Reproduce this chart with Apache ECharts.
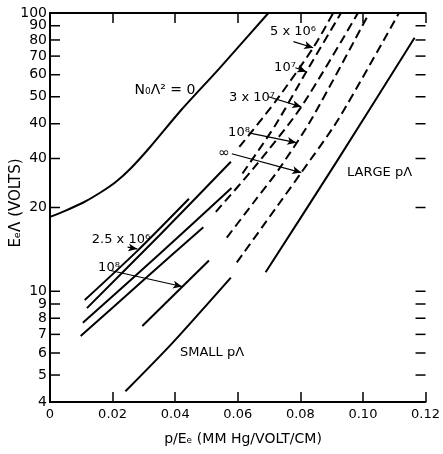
<!DOCTYPE html>
<html>
<head>
<meta charset="utf-8">
<script src="https://cdn.jsdelivr.net/npm/echarts@6/dist/echarts.min.js"></script>
<style>
  html, body { margin: 0; padding: 0; background: #fff; }
  #chart { width: 443px; height: 454px; }
</style>
</head>
<body>
<div id="chart"></div>
<script>
// axis ticks
const xTicks = [0, 0.02, 0.04, 0.06, 0.08, 0.10, 0.12];
const xTickLabels = ['0', '0.02', '0.04', '0.06', '0.08', '0.10', '0.12'];
const yTicks = [4, 5, 6, 7, 8, 9, 10, 20, 30, 40, 50, 60, 70, 80, 90, 100];
const yTickLabels = ['4', '5', '6', '7', '8', '9', '10', '20', '40', '40', '50', '60', '70', '80', '90', '100'];

// solid curves  [p/Ee, EeΛ]
const zeroCurve = [[0, 18.5], [0.005, 19.5], [0.0105, 20.8], [0.016, 22.6], [0.021, 24.7], [0.026, 27.8],
  [0.032, 33], [0.042, 44.9], [0.054, 63], [0.0698, 100]];
const solid25e5 = [[0.0111, 9.3], [0.028, 14.0], [0.0444, 21.5]];
const solid5e6 = [[0.0118, 8.7], [0.035, 15.9], [0.0578, 29.2]];
const solid1e7 = [[0.0105, 7.7], [0.035, 13.6], [0.058, 23.5]];
const solid3e7 = [[0.0098, 6.9], [0.030, 11.0], [0.049, 17.0]];
const solid1e8 = [[0.0295, 7.5], [0.0508, 12.9]];
const smallPL = [[0.0241, 4.37], [0.039, 6.5], [0.0578, 11.2]];
const largePL = [[0.0689, 11.7], [0.0914, 29.0], [0.1165, 81.5]];

// dashed curves
const dash5e6 = [[0.0605, 33], [0.072, 48], [0.0841, 75], [0.0905, 100]];
const dash1e7 = [[0.0615, 26.5], [0.072, 39.5], [0.0819, 61.5], [0.093, 100]];
const dash3e7 = [[0.053, 19.3], [0.066, 28.5], [0.0803, 46], [0.0984, 100]];
const dash1e8 = [[0.0565, 15.6], [0.065, 20.8], [0.073, 27.3], [0.0835, 41.4], [0.102, 100]];
const dashInf = [[0.0597, 12.7], [0.073, 20.5], [0.0803, 26.7], [0.0921, 41.4], [0.1115, 100]];

// label arrows [from, to]
const arrows = [
  [[0.0778, 78.9], [0.0841, 75.0]],
  [[0.0784, 63.6], [0.0819, 61.5]],
  [[0.0698, 50.0], [0.0803, 46.0]],
  [[0.0635, 37.1], [0.0787, 34.2]],
  [[0.0581, 31.2], [0.0803, 26.7]],
  [[0.0248, 14.4], [0.0279, 14.2]],
  [[0.019, 11.9], [0.0422, 10.4]]
];

const FONT = '"DejaVu Sans", sans-serif';

function curve(data, dashed) {
  return {
    type: 'line',
    data: data,
    smooth: 0.25,
    showSymbol: false,
    silent: true,
    lineStyle: { color: '#000', width: 2, type: dashed ? [9, 5] : 'solid' }
  };
}

const chart = echarts.init(document.getElementById('chart'));

const series = [
  curve(zeroCurve), curve(solid25e5), curve(solid5e6), curve(solid1e7),
  curve(solid3e7), curve(solid1e8), curve(smallPL), curve(largePL),
  curve(dash5e6, true), curve(dash1e7, true), curve(dash3e7, true),
  curve(dash1e8, true), curve(dashInf, true)
];
series.push({
  type: 'line',
  data: [],
  markLine: {
    silent: true,
    symbol: ['none', 'arrow'],
    symbolSize: [6, 9],
    label: { show: false },
    lineStyle: { color: '#000', width: 1.2, type: 'solid' },
    data: arrows.map(a => [{ coord: a[0] }, { coord: a[1] }])
  }
});

chart.setOption({
  animation: false,
  backgroundColor: '#fff',
  grid: { left: 50, right: 15, top: 13, bottom: 52 },
  xAxis: [{
    type: 'value', min: 0, max: 0.12, interval: 0.02, position: 'bottom',
    axisLine: { lineStyle: { color: '#000', width: 2 } },
    axisTick: { inside: true, length: 10, lineStyle: { color: '#000', width: 1.5 } },
    axisLabel: {
      color: '#000', fontSize: 13, fontFamily: FONT, margin: 6,
      formatter: v => xTickLabels[xTicks.findIndex(t => Math.abs(t - v) < 1e-9)]
    },
    splitLine: { show: false }
  }, {
    type: 'value', min: 0, max: 0.12, interval: 0.02, position: 'top',
    axisLine: { lineStyle: { color: '#000', width: 2 } },
    axisTick: { inside: true, length: 10, lineStyle: { color: '#000', width: 1.5 } },
    axisLabel: { show: false },
    splitLine: { show: false }
  }],
  yAxis: [{
    type: 'log', logBase: 10, min: 4, max: 100, position: 'left',
    axisLine: { lineStyle: { color: '#000', width: 2 } },
    axisTick: { show: false },
    axisLabel: { show: false },
    splitLine: { show: false }
  }, {
    type: 'log', logBase: 10, min: 4, max: 100, position: 'right',
    axisLine: { lineStyle: { color: '#000', width: 2 } },
    axisTick: { show: false },
    axisLabel: { show: false },
    splitLine: { show: false }
  }],
  series: series
});

// y ticks and labels placed through the log axis
const gr = [];
const xl = chart.convertToPixel({ xAxisIndex: 0 }, 0);
const xr = chart.convertToPixel({ xAxisIndex: 0 }, 0.12);
yTicks.forEach((v, i) => {
  const py = chart.convertToPixel({ yAxisIndex: 0 }, v);
  if (i > 0 && i < yTicks.length - 1) {
    gr.push({ type: 'line', silent: true, shape: { x1: xl, y1: py, x2: xl + 10, y2: py }, style: { stroke: '#000', lineWidth: 1.5 } });
    gr.push({ type: 'line', silent: true, shape: { x1: xr - 10, y1: py, x2: xr, y2: py }, style: { stroke: '#000', lineWidth: 1.5 } });
  }
  gr.push({ type: 'text', silent: true, x: xl - 3, y: py,
    style: { text: yTickLabels[i], font: '14px ' + FONT, fill: '#000', align: 'right', verticalAlign: 'middle' } });
});

function label(text, x, y, align, size) {
  gr.push({ type: 'text', silent: true, x: x, y: y,
    style: { text: text, font: (size || 13) + 'px ' + FONT, fill: '#000', align: align || 'center', verticalAlign: 'middle' } });
}
label('N₀Λ² = 0', 165, 90, 'center', 14);
label('5 x 10⁶', 293, 32);
label('10⁷', 285, 68);
label('3 x 10⁷', 252, 98);
label('10⁸', 239, 133);
label('∞', 224, 153, 'center', 14);
label('LARGE pΛ', 347, 173, 'left');
label('2.5 x 10⁶', 121, 240);
label('10⁸', 109, 268);
label('SMALL pΛ', 180, 353, 'left');
label('p/Eₑ (MM Hg/VOLT/CM)', 243, 439, 'center', 14);
gr.push({ type: 'text', silent: true, x: 16, y: 203, rotation: Math.PI / 2,
  style: { text: 'EₑΛ (VOLTS)', font: '15px ' + FONT, fill: '#000', align: 'center', verticalAlign: 'middle' } });

chart.setOption({ graphic: gr });
</script>
</body>
</html>
